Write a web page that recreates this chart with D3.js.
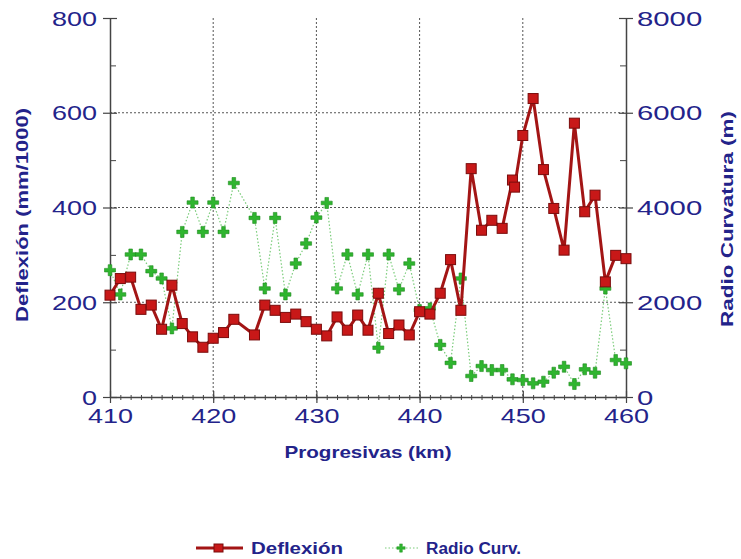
<!DOCTYPE html>
<html><head><meta charset="utf-8">
<script src="https://cdn.jsdelivr.net/npm/d3@7"></script>
<style>body{margin:0;background:#fff}svg{display:block}</style>
</head><body>
<svg id="c" width="741" height="559"></svg>
<script>
const defX = [410,411,412,413,414,415,416,417,418,419,420,421,422,424,425,426,427,428,429,430,431,432,433,434,435,436,437,438,439,440,441,442,443,444,445,446,447,448,449,449.2,450,451,452,453,454,455,456,457,458,459,460];
const defY = [215,250,253,185,194,143,236,155,127,105,124,136,164,131,194,183,168,175,159,143,129,169,141,173,141,219,134,152,131,180,175,219,290,183,482,352,373,356,458,443,552,630,480,398,310,578,391,426,243,299,292];
const radX = [410,411,412,413,414,415,416,417,418,419,420,421,422,424,425,426,427,428,429,430,431,432,433,434,435,436,437,438,439,440,441,442,443,444,445,446,447,448,449,450,451,452,453,454,455,456,457,458,459,460];
const radY = [2677,2165,3008,3008,2656,2502,1448,3485,4104,3485,4104,3485,4517,3780,2290,3780,2165,2818,3240,3787,4096,2290,3008,2165,3008,1040,3008,2270,2818,1834,1870,1100,720,2502,443,653,569,569,373,358,288,323,513,639,274,584,513,2290,780,710];
const xTicks = [410,420,430,440,450,460];
const yLeftTicks = [0,200,400,600,800];
const yRightTicks = [0,2000,4000,6000,8000];

const svg = d3.select("#c");
const L = 110, R = 626, T = 18, B = 397;
const blue = "#23238a";
const x = d3.scaleLinear().domain([410,460]).range([L,R]);
const yL = d3.scaleLinear().domain([0,800]).range([B,T]);
const yR = d3.scaleLinear().domain([0,8000]).range([B,T]);
const font = "'Liberation Sans', Arial, sans-serif";

// grid
const g = svg.append("g");
g.selectAll("line.gx").data([420,430,440,450]).join("line")
  .attr("x1", d=>x(d)).attr("x2", d=>x(d)).attr("y1", T).attr("y2", B)
  .attr("stroke", "#555").attr("stroke-width", 1).attr("stroke-dasharray", "2,2");
g.selectAll("line.gy").data([200,400,600]).join("line")
  .attr("y1", d=>yL(d)).attr("y2", d=>yL(d)).attr("x1", L).attr("x2", R)
  .attr("stroke", "#555").attr("stroke-width", 1).attr("stroke-dasharray", "2,2");

function styleAxis(sel, per){
  sel.selectAll("path").attr("stroke", "#444").attr("stroke-width", 1.5);
  sel.selectAll("line").attr("stroke", "#444").attr("stroke-width", 1.2);
  sel.selectAll("text").attr("fill", blue).attr("font-family", font).attr("font-size", 21)
    .attr("lengthAdjust","spacingAndGlyphs")
    .attr("textLength", function(){ return this.textContent.length*per; });
}
// minor ticks
svg.append("g").attr("transform", `translate(0,${B})`)
  .call(d3.axisBottom(x).ticks(50).tickSize(-5).tickFormat("").tickSizeOuter(0))
  .call(s=>{s.select("path").remove(); s.selectAll("line").attr("stroke","#444").attr("transform","translate(0,3)");});
svg.append("g").attr("transform", `translate(${L},0)`)
  .call(d3.axisLeft(yL).tickValues(d3.range(100,800,200)).tickSize(-6).tickFormat("").tickSizeOuter(0))
  .call(s=>{s.select("path").remove(); s.selectAll("line").attr("stroke","#444");});
svg.append("g").attr("transform", `translate(${R},0)`)
  .call(d3.axisRight(yR).tickValues(d3.range(1000,8000,2000)).tickSize(-6).tickFormat("").tickSizeOuter(0))
  .call(s=>{s.select("path").remove(); s.selectAll("line").attr("stroke","#444");});

const ax = svg.append("g").attr("transform", `translate(0,${B})`)
  .call(d3.axisBottom(x).tickValues(xTicks).tickSize(6).tickPadding(5).tickSizeOuter(0));
styleAxis(ax, 15);
ax.selectAll(".tick line").attr("y1", -6);
const al = svg.append("g").attr("transform", `translate(${L},0)`)
  .call(d3.axisLeft(yL).tickValues(yLeftTicks).tickSize(7).tickPadding(6).tickSizeOuter(0));
styleAxis(al, 15);
al.selectAll(".tick line").attr("x1", 7);
al.selectAll("text").attr("dy", "0.34em");
const ar = svg.append("g").attr("transform", `translate(${R},0)`)
  .call(d3.axisRight(yR).tickValues(yRightTicks).tickFormat(d3.format("d")).tickSize(7).tickPadding(4).tickSizeOuter(0));
styleAxis(ar, 16.3);
ar.selectAll(".tick line").attr("x1", -7);
ar.selectAll("text").attr("dy", "0.34em");

// titles
function title(t){ return t.attr("font-family", font).attr("font-weight","bold").attr("font-size", 17)
  .attr("fill", blue).attr("text-anchor","middle").attr("lengthAdjust","spacingAndGlyphs"); }
title(svg.append("text").attr("x", 368).attr("y", 458)).attr("textLength",167).text("Progresivas (km)");
title(svg.append("text").attr("transform","translate(28,215) rotate(-90)")).attr("textLength",214).text("Deflexión (mm/1000)");
title(svg.append("text").attr("transform","translate(733,219) rotate(-90)")).attr("textLength",216).text("Radio Curvatura (m)");

// series
const rad = radX.map((d,i)=>({x:d,y:radY[i]}));
const def = defX.map((d,i)=>({x:d,y:defY[i]}));
const plus = "M-1.8,-5.5 L1.8,-5.5 L1.8,-1.8 L5.5,-1.8 L5.5,1.8 L1.8,1.8 L1.8,5.5 L-1.8,5.5 L-1.8,1.8 L-5.5,1.8 L-5.5,-1.8 L-1.8,-1.8 Z";

svg.append("path").datum(rad)
  .attr("d", d3.line().x(d=>x(d.x)).y(d=>yR(d.y)))
  .attr("fill","none").attr("stroke","#7acc7a").attr("stroke-width",1.2).attr("stroke-dasharray","1.5,2");
svg.append("g").selectAll("path").data(rad).join("path")
  .attr("transform", d=>`translate(${x(d.x)},${yR(d.y)})`).attr("d", plus)
  .attr("fill","#2fb52f").attr("stroke","#1e8c1e").attr("stroke-width",0.6);

svg.append("path").datum(def)
  .attr("d", d3.line().x(d=>x(d.x)).y(d=>yL(d.y)))
  .attr("fill","none").attr("stroke","#a31515").attr("stroke-width",3);
svg.append("g").selectAll("rect").data(def).join("rect")
  .attr("x", d=>x(d.x)-5).attr("y", d=>yL(d.y)-5).attr("width",10).attr("height",10)
  .attr("fill","#c81818").attr("stroke","#7a0c0c").attr("stroke-width",1);

// legend
const lg = svg.append("g");
lg.append("line").attr("x1",196).attr("x2",243).attr("y1",548).attr("y2",548).attr("stroke","#a31515").attr("stroke-width",3);
lg.append("rect").attr("x",214).attr("y",544).attr("width",9).attr("height",8).attr("fill","#c81818").attr("stroke","#7a0c0c");
lg.append("text").attr("x",251).attr("y",554).attr("font-family",font).attr("font-weight","bold").attr("font-size",16).attr("fill",blue)
  .attr("lengthAdjust","spacingAndGlyphs").attr("textLength",92).text("Deflexión");
lg.append("line").attr("x1",385).attr("x2",418).attr("y1",548).attr("y2",548).attr("stroke","#7acc7a").attr("stroke-width",1.2).attr("stroke-dasharray","1.5,2");
lg.append("path").attr("transform","translate(401,548) scale(0.75)").attr("d",plus).attr("fill","#2fb52f").attr("stroke","#1e8c1e").attr("stroke-width",0.6);
lg.append("text").attr("x",426).attr("y",554).attr("font-family",font).attr("font-weight","bold").attr("font-size",16).attr("fill",blue)
  .attr("lengthAdjust","spacingAndGlyphs").attr("textLength",95).text("Radio Curv.");
</script>
</body></html>
